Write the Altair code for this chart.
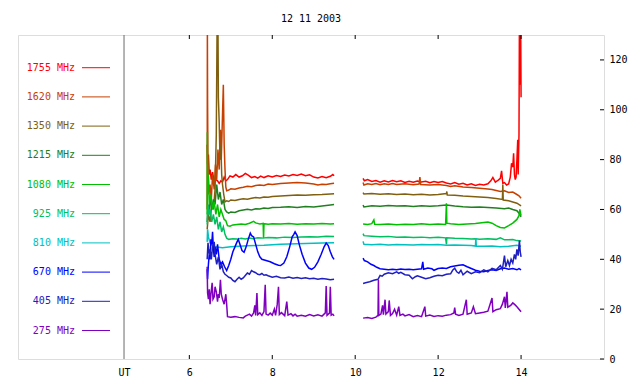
import altair as alt
import pandas as pd

# ---------------- data (UT hours, flux) ----------------
FREQS = ["1755 MHz", "1620 MHz", "1350 MHz", "1215 MHz", "1080 MHz",
         "925 MHz", "810 MHz", "670 MHz", "405 MHz", "275 MHz"]
COLORS = ["#ff0000", "#c84000", "#806010", "#208020", "#00c000",
          "#00c060", "#00c0c0", "#0000ff", "#2020c0", "#8000c0"]

F1755_A = [(6.43, 86), (6.44, 78), (6.46, 82), (6.48, 74), (6.5, 76), (6.53, 72), (6.56, 75), (6.6, 71),
           (6.64, 72), (6.68, 71.5), (6.72, 70.5), (6.76, 71.5), (6.8, 71), (6.84, 73), (6.88, 71.5),
           (6.92, 72), (6.98, 73.5), (7.05, 73), (7.12, 74), (7.2, 73), (7.28, 73.5), (7.35, 74.5),
           (7.42, 73.8), (7.5, 72.8), (7.58, 73.2), (7.65, 72.6), (7.72, 73.4), (7.8, 72.8), (7.9, 73.5),
           (8.0, 73), (8.1, 73.6), (8.2, 73.2), (8.3, 73.8), (8.4, 73.4), (8.5, 74), (8.6, 73.6),
           (8.7, 74.2), (8.8, 73.5), (8.9, 73.9), (9.0, 73), (9.1, 72.6), (9.2, 73.2), (9.3, 72.7),
           (9.4, 73.3), (9.46, 74), (9.49, 73.5)]
F1755_B = [(10.19, 72.5), (10.22, 71.5), (10.3, 72), (10.4, 71.2), (10.5, 71.6), (10.6, 70.9), (10.7, 71.5),
           (10.8, 71), (10.9, 71.6), (11.0, 71.1), (11.1, 71.5), (11.2, 70.8), (11.3, 71.3), (11.4, 70.9),
           (11.5, 71.4), (11.6, 71), (11.7, 71.3), (11.8, 70.7), (11.9, 71.2), (12.0, 70.8), (12.1, 71.2),
           (12.2, 70.6), (12.3, 70.2), (12.4, 70.8), (12.5, 70.1), (12.6, 70.5), (12.7, 69.8), (12.8, 70.3),
           (12.9, 69.6), (13.0, 70.1), (13.1, 69.8), (13.2, 70.3), (13.27, 71.5), (13.32, 72.8), (13.38, 71),
           (13.45, 71.8), (13.5, 72.5), (13.53, 75.5), (13.56, 70.5), (13.6, 70.8), (13.65, 69.8),
           (13.7, 70.2), (13.74, 73), (13.77, 78.5), (13.8, 77), (13.82, 82.5), (13.84, 74), (13.86, 72),
           (13.88, 73), (13.9, 80), (13.92, 88), (13.93, 74), (13.95, 90), (13.96, 135), (13.98, 110),
           (13.99, 135), (14.0, 105)]

F1620_A = [(6.43, 60), (6.435, 135), (6.44, 104), (6.45, 76), (6.47, 66), (6.5, 70), (6.53, 64), (6.56, 74),
           (6.6, 68), (6.63, 78), (6.66, 72), (6.69, 84), (6.72, 76), (6.75, 92), (6.77, 80), (6.8, 98),
           (6.82, 110), (6.84, 86), (6.86, 76), (6.88, 69), (6.9, 67.5), (6.95, 67.8), (7.0, 68.3),
           (7.1, 68.1), (7.2, 68.6), (7.3, 68.9), (7.4, 69.3), (7.5, 69.1), (7.6, 69.6), (7.7, 69.8),
           (7.8, 69.6), (7.9, 70.2), (8.0, 70), (8.2, 70.4), (8.4, 70.6), (8.6, 70.8), (8.8, 70.6),
           (9.0, 70.2), (9.1, 69.8), (9.2, 70.1), (9.3, 70), (9.4, 70.3), (9.49, 70.5)]
F1620_B = [(10.19, 70.8), (10.21, 69.8), (10.3, 70.3), (10.4, 70), (10.5, 70.4), (10.6, 69.9), (10.7, 70.3),
           (10.8, 70), (10.9, 70.4), (11.0, 70), (11.2, 70.3), (11.4, 69.9), (11.54, 70.2), (11.56, 73),
           (11.58, 70), (11.8, 69.8), (12.0, 70), (12.2, 69.6), (12.3, 69.2), (12.4, 69.5), (12.6, 69),
           (12.8, 68.8), (13.0, 68.5), (13.2, 68.2), (13.3, 68), (13.4, 67.6), (13.5, 67.2), (13.6, 67.5),
           (13.7, 66.8), (13.8, 67), (13.9, 66), (13.95, 65.5), (14.0, 64.5)]

F1350_A = [(6.43, 52), (6.46, 58), (6.5, 55), (6.54, 62), (6.58, 60), (6.62, 68), (6.65, 90), (6.67, 135),
           (6.69, 135), (6.7, 105), (6.72, 95), (6.74, 80), (6.76, 86), (6.78, 74), (6.8, 70), (6.83, 66),
           (6.86, 63), (6.9, 63.5), (6.95, 63.2), (7.0, 63.8), (7.1, 63.6), (7.2, 64), (7.3, 64.3),
           (7.4, 64.1), (7.5, 64.5), (7.6, 64.8), (7.7, 64.6), (7.8, 65), (7.9, 64.9), (8.0, 65.2),
           (8.2, 65.4), (8.4, 65.6), (8.6, 65.8), (8.8, 65.7), (9.0, 65.9), (9.2, 66), (9.4, 66.2),
           (9.49, 66.3)]
F1350_B = [(10.19, 66.8), (10.21, 66.2), (10.4, 66.4), (10.6, 66.1), (10.8, 66.3), (11.0, 66), (11.2, 66.2),
           (11.4, 65.9), (11.6, 66.1), (11.8, 65.8), (12.0, 66), (12.2, 66.4), (12.21, 67.2), (12.22, 65.8),
           (12.4, 65.7), (12.6, 65.4), (12.8, 65.2), (13.0, 65), (13.2, 64.8), (13.4, 64.4), (13.55, 64),
           (13.56, 70), (13.57, 63.8), (13.7, 63.5), (13.8, 63), (13.9, 62.5), (14.0, 61.4)]

F1215_A = [(6.43, 55), (6.45, 62), (6.48, 58), (6.5, 66), (6.54, 60), (6.58, 64), (6.62, 62), (6.66, 70),
           (6.7, 64), (6.74, 67), (6.78, 62), (6.82, 64), (6.86, 60), (6.9, 59), (6.95, 58.5), (7.0, 59),
           (7.1, 58.8), (7.2, 59.5), (7.3, 59.8), (7.4, 60.1), (7.5, 59.8), (7.6, 60.3), (7.7, 60.2),
           (7.8, 60.6), (7.9, 60.4), (8.0, 60.8), (8.2, 60.9), (8.4, 61.1), (8.6, 60.8), (8.8, 61.2),
           (9.0, 61), (9.2, 61.4), (9.4, 61.8), (9.49, 62)]
F1215_B = [(10.19, 61.8), (10.21, 61), (10.4, 61.5), (10.6, 61.3), (10.8, 61.6), (11.0, 61.4), (11.2, 61.5),
           (11.4, 61.2), (11.6, 61.5), (11.8, 61.3), (12.0, 61.5), (12.2, 61.8), (12.4, 61.4), (12.6, 61.1),
           (12.8, 60.9), (13.0, 61), (13.2, 60.8), (13.4, 60.6), (13.6, 60.3), (13.7, 60.6), (13.8, 60),
           (13.9, 59.5), (13.95, 58.5), (14.0, 57)]

F1080_A = [(6.43, 58), (6.435, 91), (6.44, 70), (6.46, 74), (6.48, 62), (6.52, 66), (6.56, 60), (6.6, 63),
           (6.64, 58), (6.68, 62), (6.72, 57), (6.76, 60), (6.8, 58), (6.84, 56), (6.88, 55.5), (6.92, 53.5),
           (6.98, 53.3), (7.05, 53.8), (7.15, 54), (7.25, 54.2), (7.35, 54), (7.45, 54.5), (7.55, 55.2),
           (7.6, 54.6), (7.7, 54.2), (7.78, 54.4), (7.79, 48.5), (7.8, 54.3), (7.9, 54.1), (8.0, 54.3),
           (8.2, 54.2), (8.4, 54.4), (8.6, 54.1), (8.8, 54.3), (9.0, 54.2), (9.2, 54.4), (9.4, 54.2),
           (9.49, 54.3)]
F1080_B = [(10.19, 54.2), (10.3, 54), (10.4, 54.3), (10.45, 55.8), (10.47, 54.1), (10.6, 54), (10.8, 54.2),
           (11.0, 53.9), (11.2, 54.1), (11.4, 54), (11.6, 54.3), (11.8, 54), (12.0, 54.2), (12.18, 54),
           (12.2, 62.5), (12.21, 54.5), (12.3, 54.3), (12.5, 54), (12.7, 54.2), (12.9, 54.4), (13.1, 54.8),
           (13.2, 55), (13.3, 54.5), (13.4, 53.5), (13.5, 52.8), (13.6, 52.6), (13.7, 53.5), (13.8, 54.5),
           (13.9, 56), (13.95, 57.5), (13.97, 60), (14.0, 57.5)]

F925_A = [(6.43, 54), (6.45, 62), (6.48, 58), (6.5, 60), (6.54, 55), (6.58, 58), (6.62, 54), (6.66, 57),
          (6.7, 52), (6.74, 55), (6.78, 51), (6.82, 53), (6.86, 50), (6.9, 48.5), (6.95, 48), (7.05, 48.2),
          (7.15, 48.1), (7.25, 48.4), (7.35, 48.2), (7.45, 48.5), (7.55, 48.3), (7.65, 48.6), (7.75, 48.5),
          (7.9, 48.7), (8.1, 48.6), (8.3, 48.9), (8.5, 48.8), (8.7, 49), (8.9, 49.1), (9.1, 49), (9.3, 49.3),
          (9.49, 49.2)]
F925_B = [(10.19, 50.3), (10.21, 49.5), (10.4, 49.3), (10.6, 49.1), (10.8, 49.2), (11.0, 48.9), (11.2, 49),
          (11.4, 48.8), (11.6, 48.9), (11.8, 48.7), (12.0, 48.8), (12.18, 48.6), (12.2, 46), (12.21, 48.6),
          (12.4, 48.4), (12.6, 48.3), (12.8, 48.1), (12.9, 48.2), (13.0, 48), (13.2, 48.2), (13.4, 48),
          (13.5, 48.6), (13.6, 47.8), (13.8, 47.9), (13.9, 47.5), (14.0, 47.3)]

F810_A = [(6.43, 47), (6.44, 52), (6.46, 49), (6.5, 46.5), (6.55, 45.5), (6.6, 45), (6.7, 44.8), (6.8, 44.6),
          (6.9, 44.8), (7.0, 45), (7.2, 45.2), (7.4, 45.4), (7.6, 45.5), (7.8, 45.6), (8.0, 45.8), (8.2, 46),
          (8.4, 46.1), (8.6, 46.2), (8.8, 46.3), (9.0, 46.4), (9.2, 46.5), (9.49, 46.6)]
F810_B = [(10.19, 47.2), (10.21, 46), (10.4, 45.8), (10.6, 46), (10.8, 45.7), (11.0, 45.9), (11.2, 45.8),
          (11.4, 45.7), (11.6, 45.9), (11.8, 45.8), (12.0, 45.9), (12.2, 45.6), (12.4, 45.7), (12.6, 45.6),
          (12.8, 45.5), (12.9, 45.3), (12.91, 48.5), (12.92, 45.3), (13.1, 45.2), (13.3, 45.3), (13.5, 45),
          (13.7, 45.2), (13.9, 45.6), (14.0, 45.2)]

F670_A = [(6.43, 36), (6.44, 32), (6.46, 38), (6.48, 42), (6.5, 40), (6.52, 48), (6.54, 46), (6.56, 51),
          (6.58, 44), (6.6, 41), (6.62, 45), (6.65, 42), (6.68, 46), (6.72, 40), (6.76, 38), (6.8, 39),
          (6.85, 37), (6.9, 35.5), (6.95, 37.5), (7.0, 40), (7.05, 43), (7.1, 45), (7.15, 47), (7.18, 48),
          (7.22, 46), (7.27, 43.5), (7.32, 42.8), (7.37, 45), (7.42, 48), (7.47, 50.5), (7.5, 49.5),
          (7.55, 49), (7.6, 46), (7.65, 43), (7.7, 41), (7.75, 40), (7.85, 39.5), (7.95, 39), (8.05, 38.2),
          (8.15, 37.6), (8.2, 37.5), (8.28, 38.5), (8.35, 41), (8.42, 45), (8.48, 49), (8.52, 50),
          (8.55, 51), (8.6, 49.5), (8.65, 46), (8.72, 42), (8.8, 38.5), (8.88, 36.5), (8.95, 36),
          (9.02, 36.8), (9.1, 39), (9.18, 42), (9.25, 45), (9.3, 46.5), (9.35, 45.5), (9.4, 43),
          (9.45, 41), (9.49, 40)]
F670_B = [(10.19, 40.5), (10.22, 39.5), (10.3, 39), (10.38, 38), (10.45, 37.5), (10.52, 36.8), (10.6, 36.2),
          (10.7, 36), (10.8, 35.8), (10.9, 36), (11.0, 35.8), (11.1, 36.1), (11.2, 35.9), (11.3, 36),
          (11.4, 35.8), (11.5, 36), (11.6, 36.2), (11.63, 39), (11.65, 36), (11.75, 36.5), (11.85, 36.2),
          (11.9, 35.6), (12.0, 36.3), (12.1, 36.5), (12.2, 36.3), (12.3, 37), (12.4, 37.3), (12.5, 37.6),
          (12.6, 37.8), (12.7, 37), (12.8, 36.3), (12.9, 35.6), (13.0, 35.2), (13.1, 35), (13.2, 35.5),
          (13.3, 35.8), (13.4, 35.5), (13.5, 36.2), (13.6, 36.5), (13.7, 36), (13.8, 36.3), (13.9, 35.8),
          (13.95, 36.3), (14.0, 35.8)]

F405_A = [(6.43, 40), (6.45, 46.6), (6.48, 42), (6.5, 44), (6.53, 40), (6.56, 45), (6.6, 47), (6.62, 42),
          (6.66, 38), (6.7, 41), (6.74, 36), (6.78, 38), (6.82, 35), (6.86, 34), (6.9, 33.5), (6.95, 32.8),
          (7.0, 32.5), (7.05, 31.5), (7.1, 31), (7.15, 32), (7.2, 32.8), (7.25, 32), (7.3, 32.5),
          (7.35, 33.5), (7.4, 34.5), (7.45, 34), (7.5, 35.5), (7.55, 35), (7.6, 34.6), (7.65, 34),
          (7.7, 33.8), (7.75, 34.3), (7.8, 33.6), (7.85, 33.8), (7.9, 33.4), (8.0, 32.8), (8.1, 33.2),
          (8.2, 32.6), (8.3, 32.5), (8.4, 32.9), (8.5, 32.4), (8.6, 32.7), (8.7, 32.3), (8.8, 32.6),
          (8.9, 32.2), (9.0, 32.4), (9.1, 32), (9.2, 32.3), (9.3, 32.1), (9.4, 31.8), (9.49, 32)]
F405_B = [(10.19, 30.3), (10.25, 30.6), (10.35, 31), (10.45, 31.6), (10.55, 32), (10.6, 33.5), (10.65, 33.2),
          (10.7, 34), (10.8, 34.6), (10.9, 34.2), (11.0, 35), (11.05, 34.4), (11.1, 34.8), (11.2, 33.8),
          (11.3, 33.6), (11.38, 32.2), (11.45, 33), (11.5, 33.4), (11.6, 32.8), (11.7, 32.2), (11.8, 32.6),
          (11.9, 33.2), (12.0, 33.6), (12.1, 33.4), (12.2, 34), (12.3, 34.2), (12.35, 35.6), (12.4, 36.4),
          (12.45, 35), (12.5, 34.4), (12.55, 35.6), (12.6, 33.8), (12.7, 35.2), (12.8, 34.2), (12.9, 35),
          (13.0, 34.6), (13.1, 35.8), (13.2, 35), (13.3, 36.4), (13.4, 35.8), (13.5, 37.5), (13.55, 36),
          (13.6, 41.5), (13.63, 37), (13.68, 39.5), (13.72, 37.5), (13.76, 40), (13.8, 38.5), (13.84, 42),
          (13.87, 40), (13.9, 44), (13.93, 41.5), (13.96, 47.5), (13.98, 43), (14.0, 41)]

F275_A = [(6.43, 37), (6.44, 26.5), (6.46, 24), (6.48, 28), (6.5, 22), (6.52, 26), (6.55, 30.6), (6.57, 24),
          (6.6, 25), (6.62, 29), (6.65, 27), (6.68, 23), (6.7, 26), (6.72, 24.5), (6.75, 31.8), (6.77, 26),
          (6.8, 24), (6.84, 22), (6.88, 26), (6.9, 22), (6.92, 17), (7.0, 16.8), (7.1, 17), (7.2, 16.7),
          (7.3, 16.5), (7.35, 17.2), (7.4, 17.6), (7.45, 18), (7.5, 17.2), (7.55, 18.5), (7.58, 21.5),
          (7.6, 17.5), (7.63, 26.5), (7.65, 17.8), (7.7, 18.5), (7.75, 17.5), (7.8, 19), (7.83, 29.8),
          (7.85, 18), (7.9, 17.6), (7.95, 18.4), (8.0, 17.6), (8.05, 20), (8.08, 17.5), (8.12, 22),
          (8.15, 29), (8.17, 17.8), (8.22, 18.6), (8.3, 17.4), (8.35, 23), (8.38, 17.6), (8.45, 18.2),
          (8.5, 17.3), (8.55, 18), (8.6, 17.2), (8.7, 17.5), (8.8, 17.2), (8.9, 17.8), (9.0, 17.3),
          (9.1, 17.7), (9.2, 17.2), (9.28, 18.5), (9.3, 29.3), (9.32, 17.5), (9.38, 18.4), (9.4, 29),
          (9.42, 17.6), (9.46, 18), (9.49, 17.3)]
F275_B = [(10.19, 16.4), (10.3, 16.6), (10.4, 16.3), (10.5, 16.8), (10.55, 17.5), (10.56, 31.8), (10.57, 17.5),
          (10.62, 18), (10.66, 21.5), (10.68, 17.8), (10.72, 23.8), (10.74, 18), (10.8, 19), (10.82, 23.5),
          (10.85, 17.5), (10.9, 18.2), (10.95, 20), (11.0, 17.6), (11.05, 21), (11.08, 17.5), (11.15, 18),
          (11.2, 17.3), (11.3, 17.8), (11.4, 17), (11.5, 17.4), (11.6, 17), (11.68, 21), (11.7, 17.2),
          (11.8, 17.6), (11.9, 17.1), (12.0, 17.4), (12.1, 17.2), (12.2, 17.6), (12.3, 17.8), (12.38, 18.5),
          (12.4, 20.6), (12.42, 18), (12.5, 17.5), (12.6, 18), (12.68, 23.8), (12.7, 18), (12.8, 18.5),
          (12.85, 21), (12.9, 18.2), (13.0, 18.5), (13.1, 18.8), (13.2, 19.2), (13.3, 24.5), (13.32, 19),
          (13.4, 19.8), (13.5, 20.2), (13.55, 22), (13.6, 25), (13.62, 20.5), (13.66, 27), (13.68, 20.8),
          (13.75, 21.5), (13.8, 22.5), (13.85, 21.8), (13.9, 21), (13.95, 20), (14.0, 19)]

SERIES = [
    ("1755 MHz", F1755_A, F1755_B), ("1620 MHz", F1620_A, F1620_B), ("1350 MHz", F1350_A, F1350_B),
    ("1215 MHz", F1215_A, F1215_B), ("1080 MHz", F1080_A, F1080_B), ("925 MHz", F925_A, F925_B),
    ("810 MHz", F810_A, F810_B), ("670 MHz", F670_A, F670_B), ("405 MHz", F405_A, F405_B),
    ("275 MHz", F275_A, F275_B),
]

X_TICKS = [6, 8, 10, 12, 14]
Y_TICKS = [0, 20, 40, 60, 80, 100, 120]
UT_X = 4.425          # position of the "UT" separator on the time axis
X_DOMAIN = [1.868, 16.0]
Y_DOMAIN = [0, 130]
TITLE = "12 11 2003"
FONT = "DejaVu Sans Mono"

# ---------------- build tables ----------------
rows = []
for order, (name, seg_a, seg_b) in enumerate(SERIES):
    for seg_id, seg in (("a", seg_a), ("b", seg_b)):
        for t, v in seg:
            rows.append({"t": t, "v": v, "freq": name, "seg": name + seg_id, "o": order})
df = pd.DataFrame(rows)
legend_df = pd.DataFrame({"freq": FREQS, "rank": list(range(len(FREQS)))})
xt_df = pd.DataFrame({"t": X_TICKS})
yt_df = pd.DataFrame({"v": Y_TICKS})

W, H = 586, 324
color_scale = alt.Scale(domain=FREQS, range=COLORS)
xs = alt.Scale(domain=X_DOMAIN, nice=False, zero=False)
ys = alt.Scale(domain=Y_DOMAIN, nice=False)

x_axis = alt.Axis(values=[UT_X] + X_TICKS, labelExpr="datum.value < 5 ? 'UT' : datum.label",
                  ticks=False, tickSize=0, domain=False, grid=False, labelPadding=8,
                  labelFont=FONT, labelFontSize=10, labelColor="black", labelFlush=False)
y_axis = alt.Axis(orient="right", values=Y_TICKS, ticks=False, tickSize=0, domain=False,
                  grid=False, labelPadding=5, labelFont=FONT, labelFontSize=10,
                  labelColor="black", labelFlush=False)

lines = alt.Chart(df).mark_line(clip=True, strokeWidth=1.5).encode(
    x=alt.X("t:Q", scale=xs, title=None, axis=x_axis),
    y=alt.Y("v:Q", scale=ys, title=None, axis=y_axis),
    color=alt.Color("freq:N", scale=color_scale, legend=None),
    detail="seg:N",
    order=alt.Order("t:Q"),
)

sep = alt.Chart(pd.DataFrame({"t": [UT_X]})).mark_rule(color="#6a6a6a", strokeWidth=1).encode(
    x=alt.X("t:Q", scale=xs, title=None, axis=x_axis), y=alt.value(0), y2=alt.value(H))

tick_top = alt.Chart(xt_df).mark_rule(color="black").encode(
    x=alt.X("t:Q", scale=xs, title=None, axis=x_axis), y=alt.value(0), y2=alt.value(4))
tick_bot = alt.Chart(xt_df).mark_rule(color="black").encode(
    x=alt.X("t:Q", scale=xs, title=None, axis=x_axis), y=alt.value(H - 4), y2=alt.value(H))
tick_right = alt.Chart(yt_df).mark_rule(color="black").encode(
    y=alt.Y("v:Q", scale=ys, title=None, axis=y_axis), x=alt.value(W - 4), x2=alt.value(W))

main = alt.layer(sep, lines, tick_top, tick_bot, tick_right)

ls = alt.Scale(domain=[-1.12, 9.976], reverse=True, nice=False, zero=False)
leg_text = alt.Chart(legend_df).mark_text(align="right", baseline="middle", font=FONT, fontSize=10).encode(
    x=alt.value(57),
    y=alt.Y("rank:Q", scale=ls, axis=None),
    text="freq:N",
    color=alt.Color("freq:N", scale=color_scale, legend=None),
)
leg_line = alt.Chart(legend_df).mark_rule(strokeWidth=1).encode(
    x=alt.value(64), x2=alt.value(92),
    y=alt.Y("rank:Q", scale=ls, axis=None),
    color=alt.Color("freq:N", scale=color_scale, legend=None),
)
legend = alt.layer(leg_text, leg_line)

chart = alt.layer(main, legend).resolve_scale(y="independent").properties(
    width=W, height=H,
    title=alt.TitleParams(TITLE, font=FONT, fontSize=10, fontWeight="normal", color="black",
                          anchor="middle", offset=11),
    autosize=alt.AutoSizeParams(type="none"),
    padding={"left": 10, "top": 27, "right": 28, "bottom": 17},
).configure_view(stroke="black", strokeWidth=1).configure(background="white")

chart.save("out.html", embed_options={"renderer": "svg", "actions": False})
